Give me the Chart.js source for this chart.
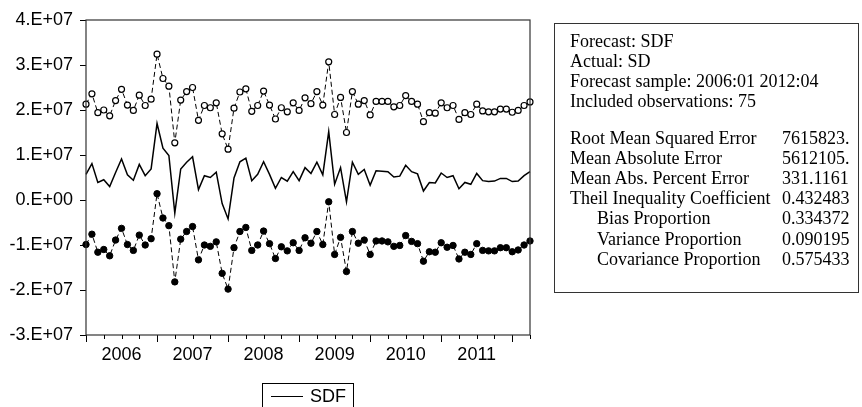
<!DOCTYPE html>
<html lang="en">
  <head>
    <meta charset="UTF-8" />
    <title>SDF forecast</title>
    <script src="https://cdn.jsdelivr.net/npm/chart.js@4.4.1/dist/chart.umd.min.js"></script>
    <style>
      body { margin: 0; background: #fff; }
      #wrap { position: relative; width: 862px; height: 407px; overflow: hidden; }
      #stats { position: absolute; left: 554px; top: 23px; width: 303px; height: 268px;
               border: 1px solid #333; font-family: "Liberation Serif", "Times New Roman", serif;
               font-size: 18px; color: #000; }
      #stats .row { position: absolute; left: 15px; height: 20px; line-height: 20px; white-space: nowrap; }
      #stats .val { position: absolute; left: 212px; }
      #legend { position: absolute; left: 262px; top: 383px; width: 90px; height: 26px;
                border: 1px solid #000; font-family: "Liberation Sans", Arial, sans-serif; font-size: 18px; }
      #legend .ln { position: absolute; left: 8px; top: 12px; width: 32px; border-top: 1px solid #000; }
      #legend .tx { position: absolute; left: 47px; top: 1px; line-height: 22px; }
    </style>
  </head>
  <body>
    <div id="wrap">
      <canvas id="myChart" width="862" height="407"></canvas>
      <div id="stats"></div>
      <div id="legend"><span class="ln"></span><span class="tx">SDF</span></div>
    </div>
    <script>
      // monthly sample 2006:01 .. 2012:04
      const months = [];
      for (let y = 2006; y <= 2012; y++) {
        for (let m = 1; m <= 12; m++) {
          if (y === 2012 && m > 4) break;
          months.push(y + ':' + String(m).padStart(2, '0'));
        }
      }

      const sdf = [
        0.57e7, 0.81e7, 0.39e7, 0.45e7, 0.30e7, 0.61e7, 0.91e7, 0.56e7, 0.44e7, 0.79e7, 0.54e7, 0.69e7,
        1.70e7, 1.15e7, 0.99e7, -0.29e7, 0.69e7, 0.84e7, 0.96e7, 0.23e7, 0.54e7, 0.50e7, 0.62e7, -0.08e7,
        -0.42e7, 0.49e7, 0.85e7, 0.93e7, 0.43e7, 0.57e7, 0.85e7, 0.57e7, 0.26e7, 0.50e7, 0.42e7, 0.63e7,
        0.43e7, 0.72e7, 0.59e7, 0.84e7, 0.56e7, 1.52e7, 0.35e7, 0.72e7, -0.04e7, 0.84e7, 0.57e7, 0.68e7,
        0.33e7, 0.65e7, 0.64e7, 0.63e7, 0.51e7, 0.53e7, 0.77e7, 0.63e7, 0.58e7, 0.20e7, 0.39e7, 0.38e7,
        0.60e7, 0.50e7, 0.54e7, 0.25e7, 0.39e7, 0.35e7, 0.59e7, 0.43e7, 0.41e7, 0.42e7, 0.48e7, 0.48e7,
        0.41e7, 0.42e7, 0.54e7, 0.63e7
      ];
      const upper = [
        2.13e7, 2.36e7, 1.94e7, 2.00e7, 1.87e7, 2.21e7, 2.46e7, 2.11e7, 1.99e7, 2.33e7, 2.10e7, 2.24e7,
        3.24e7, 2.70e7, 2.53e7, 1.27e7, 2.22e7, 2.41e7, 2.50e7, 1.77e7, 2.10e7, 2.05e7, 2.16e7, 1.47e7,
        1.13e7, 2.04e7, 2.40e7, 2.47e7, 1.97e7, 2.10e7, 2.42e7, 2.11e7, 1.80e7, 2.05e7, 1.96e7, 2.16e7,
        1.99e7, 2.27e7, 2.14e7, 2.41e7, 2.11e7, 3.07e7, 1.90e7, 2.28e7, 1.50e7, 2.41e7, 2.13e7, 2.21e7,
        1.89e7, 2.19e7, 2.19e7, 2.19e7, 2.07e7, 2.10e7, 2.32e7, 2.19e7, 2.13e7, 1.74e7, 1.94e7, 1.93e7,
        2.16e7, 2.05e7, 2.10e7, 1.79e7, 1.94e7, 1.90e7, 2.13e7, 1.98e7, 1.96e7, 1.96e7, 2.02e7, 2.02e7,
        1.95e7, 1.99e7, 2.10e7, 2.18e7
      ];
      const lower = [
        -0.99e7, -0.76e7, -1.16e7, -1.10e7, -1.24e7, -0.89e7, -0.63e7, -0.99e7, -1.12e7, -0.78e7, -1.00e7, -0.86e7,
        0.14e7, -0.40e7, -0.57e7, -1.82e7, -0.87e7, -0.70e7, -0.59e7, -1.33e7, -1.00e7, -1.03e7, -0.93e7, -1.63e7,
        -1.98e7, -1.06e7, -0.70e7, -0.61e7, -1.12e7, -1.00e7, -0.69e7, -0.97e7, -1.30e7, -1.04e7, -1.13e7, -0.95e7,
        -1.12e7, -0.84e7, -0.96e7, -0.70e7, -0.99e7, -0.04e7, -1.21e7, -0.83e7, -1.59e7, -0.70e7, -0.96e7, -0.89e7,
        -1.21e7, -0.91e7, -0.91e7, -0.93e7, -1.03e7, -1.01e7, -0.79e7, -0.92e7, -0.97e7, -1.36e7, -1.15e7, -1.16e7,
        -0.95e7, -1.05e7, -1.01e7, -1.31e7, -1.16e7, -1.21e7, -0.97e7, -1.12e7, -1.13e7, -1.13e7, -1.06e7, -1.06e7,
        -1.15e7, -1.11e7, -1.00e7, -0.91e7
      ];
      const yTicks = [-3e7, -2e7, -1e7, 0, 1e7, 2e7, 3e7, 4e7];

      const statLabels = [
        'Forecast: SDF', 'Actual: SD', 'Forecast sample: 2006:01 2012:04', 'Included observations: 75'
      ];
      const errLabels = [
        'Root Mean Squared Error', 'Mean Absolute Error', 'Mean Abs. Percent Error',
        'Theil Inequality Coefficient', 'Bias Proportion', 'Variance Proportion', 'Covariance Proportion'
      ];
      const errValues = ['7615823.', '5612105.', '331.1161', '0.432483', '0.334372', '0.090195', '0.575433'];
      const indented = [false, false, false, false, true, true, true];

      // stats box text
      const box = document.getElementById('stats');
      statLabels.forEach((t, i) => {
        const d = document.createElement('div');
        d.className = 'row';
        d.style.top = (7 + i * 20) + 'px';
        d.textContent = t;
        box.appendChild(d);
      });
      errLabels.forEach((t, i) => {
        const d = document.createElement('div');
        d.className = 'row';
        d.style.top = (104 + i * 20.1) + 'px';
        d.style.width = '285px';
        const l = document.createElement('span');
        l.textContent = t;
        if (indented[i]) l.style.paddingLeft = '27px';
        const v = document.createElement('span');
        v.className = 'val';
        v.textContent = errValues[i];
        d.appendChild(l);
        d.appendChild(v);
        box.appendChild(d);
      });

      const frame = {
        id: 'frame',
        afterDraw(chart) {
          const { ctx, chartArea: a, scales } = chart;
          ctx.save();
          ctx.strokeStyle = '#333';
          ctx.lineWidth = 1.2;
          ctx.strokeRect(a.left, a.top, a.right - a.left, a.bottom - a.top);
          // quarterly minor ticks
          ctx.strokeStyle = '#000';
          ctx.lineWidth = 1;
          ctx.beginPath();
          for (let i = 0; i < months.length; i++) {
            if (i % 3 !== 0 || i % 12 === 0) continue;
            const x = Math.round(scales.x.getPixelForValue(i)) + 0.5;
            ctx.moveTo(x, a.bottom);
            ctx.lineTo(x, a.bottom + 4);
          }
          ctx.stroke();
          ctx.restore();
        }
      };

      const axisFont = { family: '"Liberation Sans", Arial, sans-serif', size: 18 };

      new Chart(document.getElementById('myChart').getContext('2d'), {
        type: 'line',
        data: {
          labels: months,
          datasets: [
            {
              label: 'SDF',
              data: sdf,
              borderColor: '#000',
              borderWidth: 1.5,
              pointRadius: 0,
              tension: 0
            },
            {
              label: 'upper',
              data: upper,
              borderColor: '#000',
              borderWidth: 1,
              borderDash: [5, 3],
              pointRadius: 3,
              pointBorderWidth: 1.2,
              pointBackgroundColor: '#fff',
              pointBorderColor: '#000',
              tension: 0
            },
            {
              label: 'lower',
              data: lower,
              borderColor: '#000',
              borderWidth: 1,
              borderDash: [5, 3],
              pointRadius: 3.2,
              pointBorderWidth: 1,
              pointBackgroundColor: '#000',
              pointBorderColor: '#000',
              tension: 0
            }
          ]
        },
        options: {
          responsive: false,
          animation: false,
          layout: { padding: { left: 0, top: 20, right: 332, bottom: 37 } },
          plugins: { legend: { display: false }, tooltip: { enabled: false } },
          scales: {
            x: {
              offset: false,
              afterFit(s) { s.height = 35; },
              border: { display: false },
              grid: {
                drawOnChartArea: false,
                drawTicks: true,
                tickLength: 7,
                tickColor: c => (c.index % 12 === 0 ? '#000' : 'rgba(0,0,0,0)')
              },
              ticks: {
                autoSkip: false,
                maxRotation: 0,
                minRotation: 0,
                padding: 2,
                color: '#000',
                font: axisFont,
                callback: (v, i) => (i % 12 === 6 ? months[i].slice(0, 4) : '')
              }
            },
            y: {
              min: -3e7,
              max: 4e7,
              afterFit(s) { s.width = 86; },
              afterBuildTicks(s) { s.ticks = yTicks.map(v => ({ value: v })); },
              border: { display: false },
              grid: { drawOnChartArea: false, drawTicks: true, tickLength: 6, tickColor: '#000' },
              ticks: {
                padding: 7,
                color: '#000',
                font: axisFont,
                callback: v => (v === 0 ? '0.E+00' : (v / 1e7) + '.E+07')
              }
            }
          }
        },
        plugins: [frame]
      });
    </script>
  </body>
</html>
